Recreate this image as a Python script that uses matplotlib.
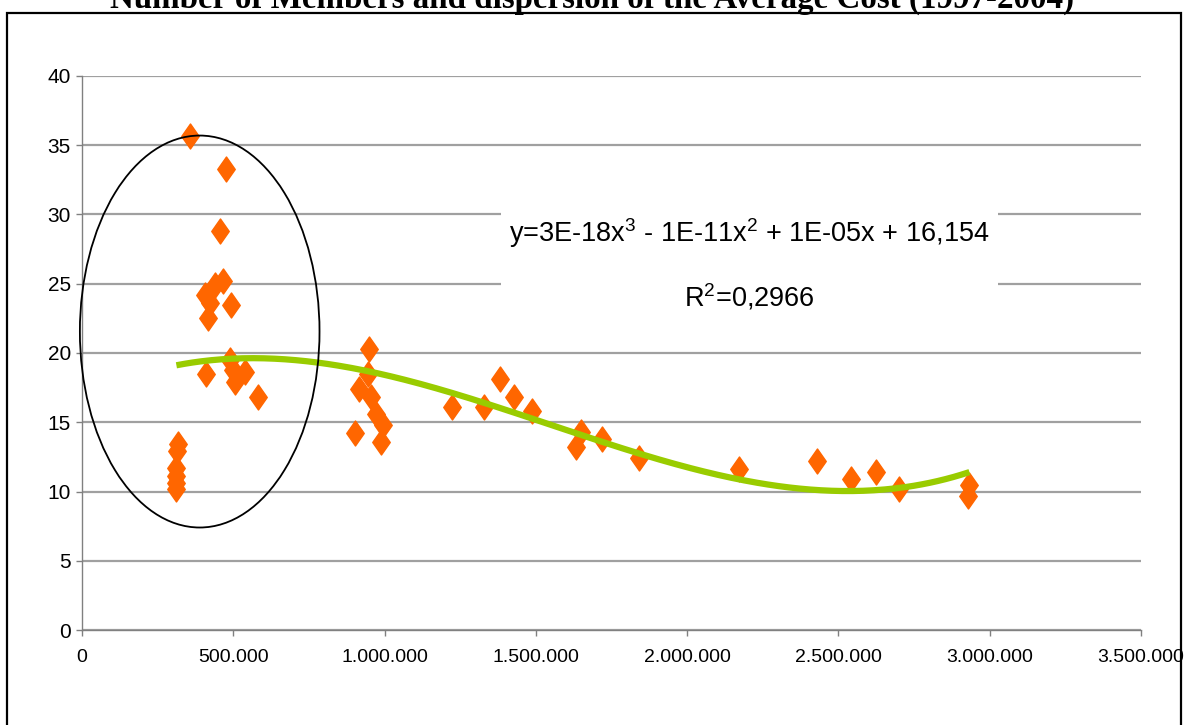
import numpy as np
import matplotlib.pyplot as plt
from matplotlib import font_manager
from matplotlib.patches import Ellipse, Rectangle
from matplotlib.path import Path
from matplotlib.ticker import FuncFormatter

# members (x) and dispersion of the average cost (y)
members = [356000, 477000, 455000, 466000, 439000, 406000, 422000, 416000,
           494000, 411000, 488000, 498000, 538000, 505000, 582000,
           318000, 315000, 312000, 312000, 312000, 312000,
           950000, 945000, 917000, 956000, 972000, 994000, 989000, 901000,
           1223000, 1330000, 1382000, 1429000, 1486000, 1632000, 1649000,
           1718000, 1842000, 2172000, 2430000, 2540000, 2623000, 2700000,
           2933000, 2928000]
dispersion = [35.7, 33.3, 28.8, 25.2, 24.9, 24.2, 23.6, 22.5,
              23.5, 18.5, 19.5, 18.8, 18.6, 17.9, 16.8,
              13.4, 12.9, 11.7, 11.1, 10.6, 10.2,
              20.3, 18.5, 17.4, 16.8, 15.6, 14.8, 13.6, 14.2,
              16.1, 16.1, 18.1, 16.8, 15.8, 13.2, 14.3,
              13.8, 12.4, 11.6, 12.2, 10.9, 11.4, 10.2,
              10.5, 9.7]

x_ticks = [0, 500000, 1000000, 1500000, 2000000, 2500000, 3000000, 3500000]
y_ticks = [0, 5, 10, 15, 20, 25, 30, 35, 40]

title = "Number of Members and dispersion of the Average Cost (1997-2004)"
equation = "y=3E-18x$^{3}$ - 1E-11x$^{2}$ + 1E-05x + 16,154\nR$^{2}$=0,2966"

# highlighted cluster (center x, center y, width, height)
cluster = (389000, 21.55, 792000, 28.3)

plt.rcParams['mathtext.fontset'] = 'custom'
plt.rcParams['mathtext.rm'] = 'Liberation Sans'
plt.rcParams['mathtext.it'] = 'Liberation Sans'

# narrow face for the tick labels if there is one
names = {f.name for f in font_manager.fontManager.ttflist}
if 'Liberation Sans Narrow' in names:
    tick_font, x_size, y_size = 'Liberation Sans Narrow', 16, 16
else:
    tick_font, x_size, y_size = 'Liberation Sans', 14, 15

x = np.array(members, dtype=float)
y = np.array(dispersion)

fig = plt.figure(figsize=(11.84, 7.25), dpi=100)
ax = fig.add_axes([82 / 1184, 1 - 630 / 725, (1141 - 82) / 1184, (630 - 76) / 725])

# page frame and clipped title
fig.add_artist(Rectangle((7 / 1184, -0.1), (1181 - 7) / 1184, 1.1 - 13 / 725,
                         transform=fig.transFigure, fill=False, ec='black', lw=1.6))
fig.text(0.5, 1 - 8 / 725, title, ha='center', va='baseline',
         family='Liberation Serif', weight='bold', fontsize=23.8)

ax.set_xlim(0, 3500000)
ax.set_ylim(0, 40)
ax.set_xticks(x_ticks)
ax.set_yticks(y_ticks)
ax.xaxis.set_major_formatter(FuncFormatter(lambda v, p: f"{int(v):,}".replace(',', '.')))

ax.grid(axis='y', color='#a0a0a0', lw=1.6)
ax.set_axisbelow(True)
for s in ['top', 'right']:
    ax.spines[s].set_visible(False)
for s in ['left', 'bottom']:
    ax.spines[s].set_color('#808080')
    ax.spines[s].set_linewidth(1.0)
ax.tick_params(axis='both', colors='#808080', labelcolor='black', length=4, width=1)
ax.tick_params(axis='x', pad=10)
ax.tick_params(axis='y', pad=4)
for lab in ax.get_xticklabels():
    lab.set_family(tick_font)
    lab.set_fontsize(x_size)
for lab in ax.get_yticklabels():
    lab.set_family(tick_font)
    lab.set_fontsize(y_size)

diamond = Path([(0, 1), (0.7, 0), (0, -1), (-0.7, 0), (0, 1)],
               [Path.MOVETO, Path.LINETO, Path.LINETO, Path.LINETO, Path.CLOSEPOLY])
ax.plot(x, y, ls='none', marker=diamond, ms=18, color='#ff6600', mec='#ff6600', zorder=3)

# cubic trend line
coef = np.polyfit(x, y, 3)
xs = np.linspace(x.min(), x.max(), 300)
ax.plot(xs, np.polyval(coef, xs), color='#99cc00', lw=4.5, solid_capstyle='butt', zorder=4)

ax.add_patch(Ellipse(cluster[:2], cluster[2], cluster[3], fill=False,
                     ec='black', lw=1.3, clip_on=False, zorder=5))

ax.text(0.630, 0.66, equation, transform=ax.transAxes, ha='center', va='center',
        family='Liberation Sans', fontsize=19.5, linespacing=2.3,
        bbox=dict(fc='white', ec='none', pad=6), zorder=6)

fig.savefig('out.png', dpi=100)
